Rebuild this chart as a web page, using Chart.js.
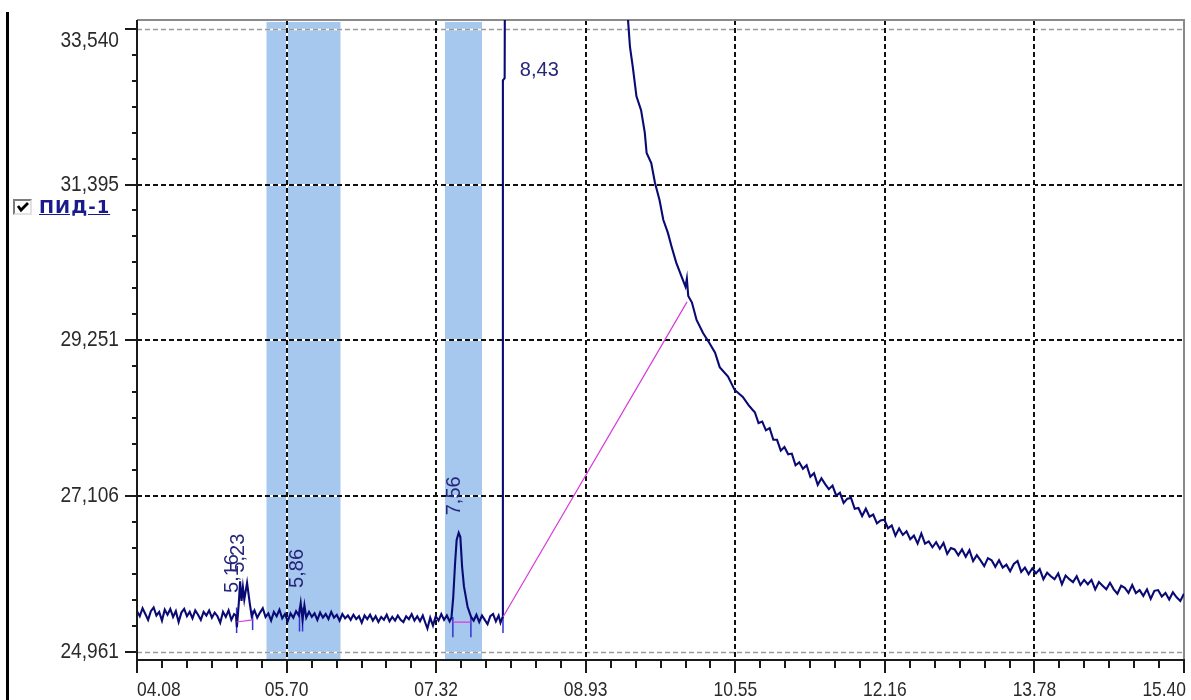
<!DOCTYPE html>
<html>
<head>
<meta charset="utf-8">
<title>ПИД-1</title>
<script src="https://cdn.jsdelivr.net/npm/chart.js@4.4.1/dist/chart.umd.min.js"></script>
<style>
    body { margin: 0; background: #fff; }
    #wrap { position: relative; width: 1191px; height: 700px; overflow: hidden; background: #fff; }
    #chart { position: absolute; left: 0; top: 0; }
    .side-line { position: absolute; left: 6px; top: 12px; width: 3px; height: 688px; background: #000; }
    .check { position: absolute; left: 13px; top: 199px; width: 19px; height: 16px; box-sizing: border-box;
             border: 2px solid; border-color: #7c7c7c #e2e2e2 #e2e2e2 #7c7c7c; background: #fff; }
    .check svg { position: absolute; left: 1px; top: 0px; }
    .legend-name { position: absolute; left: 39px; top: 198px; line-height: 18px; font-family: "DejaVu Sans", Verdana, sans-serif;
                   font-weight: bold; font-size: 18px; letter-spacing: 1px; color: #1a1a8c; text-decoration: underline; }
</style>
</head>
<body>
<div id="wrap">
    <canvas id="chart" width="1191" height="700"></canvas>
    <div class="side-line"></div>
    <div class="check">
        <svg width="14" height="12" viewBox="0 0 14 12"><polyline points="2,5 5,9 12,2" fill="none" stroke="#000" stroke-width="2.8"/></svg>
    </div>
    <div class="legend-name">ПИД-1</div>
</div>
<script>
// axis ticks
let xTicks = [4.08, 5.697, 7.314, 8.931, 10.549, 12.166, 13.783, 15.40];
let xTickLabels = ["04.08", "05.70", "07.32", "08.93", "10.55", "12.16", "13.78", "15.40"];
let yTicks = [24.961, 27.106, 29.251, 31.395, 33.540];
let yTickLabels = ["24,961", "27,106", "29,251", "31,395", "33,540"];

// highlighted time windows (blue bands)
let bandStart = [5.48, 7.41];
let bandEnd = [6.28, 7.81];

// detector trace, time (min) / signal
let signalTime = [
    4.08, 4.11, 4.14, 4.17, 4.20, 4.23, 4.26, 4.29, 4.32, 4.35, 4.38, 4.41, 4.44, 4.47, 4.50, 4.53, 4.56, 4.59, 4.62, 4.65,
    4.68, 4.71, 4.74, 4.77, 4.80, 4.83, 4.86, 4.89, 4.92, 4.95, 4.98, 5.01, 5.04, 5.07, 5.10, 5.13, 5.15, 5.16, 5.18, 5.195,
    5.21, 5.225, 5.24, 5.27, 5.30, 5.32, 5.35, 5.38, 5.41, 5.44, 5.47, 5.50, 5.53, 5.56, 5.59, 5.62, 5.65, 5.68, 5.71, 5.74,
    5.77, 5.80, 5.83, 5.85, 5.87, 5.89, 5.91, 5.94, 5.97, 6.00, 6.03, 6.06, 6.09, 6.12, 6.15, 6.18, 6.21, 6.24, 6.27, 6.30,
    6.33, 6.36, 6.39, 6.42, 6.45, 6.48, 6.51, 6.54, 6.57, 6.60, 6.63, 6.66, 6.69, 6.72, 6.75, 6.78, 6.81, 6.84, 6.87, 6.90,
    6.93, 6.96, 6.99, 7.02, 7.05, 7.08, 7.11, 7.14, 7.17, 7.20, 7.22, 7.25, 7.28, 7.31, 7.34, 7.37, 7.40, 7.43, 7.46, 7.48,
    7.499, 7.519, 7.536, 7.558, 7.576, 7.595, 7.615, 7.654, 7.692, 7.72, 7.75, 7.78, 7.81, 7.84, 7.87, 7.90, 7.93, 7.96, 7.99, 8.01,
    8.033, 8.036, 8.055, 8.07, 8.43, 8.80, 9.10, 9.30,
    9.389, 9.41, 9.44, 9.48, 9.53, 9.57, 9.59, 9.64, 9.68, 9.73, 9.77, 9.82, 9.86, 9.91, 9.97, 10.01, 10.025, 10.04, 10.08, 10.13,
    10.20, 10.27, 10.33, 10.38, 10.47, 10.54, 10.63, 10.69, 10.73,
    10.76, 10.80, 10.84, 10.88, 10.92, 10.96, 11.00, 11.04, 11.08, 11.12, 11.16, 11.20, 11.24, 11.28, 11.32, 11.36, 11.40, 11.44, 11.48, 11.52,
    11.56, 11.60, 11.64, 11.68, 11.72, 11.76, 11.80, 11.84, 11.88, 11.92, 11.96, 12.00, 12.04, 12.08, 12.12, 12.16, 12.20, 12.24, 12.28, 12.32,
    12.36, 12.40, 12.44, 12.48, 12.52, 12.56, 12.60, 12.64, 12.68, 12.72, 12.76, 12.80, 12.84, 12.88, 12.92, 12.96, 13.00, 13.04, 13.08, 13.12,
    13.16, 13.20, 13.24, 13.28, 13.32, 13.36, 13.40, 13.44, 13.48, 13.52, 13.56, 13.60, 13.64, 13.68, 13.72, 13.76, 13.80, 13.84, 13.88, 13.92,
    13.96, 14.00, 14.04, 14.08, 14.12, 14.16, 14.20, 14.24, 14.28, 14.32, 14.36, 14.40, 14.44, 14.48, 14.52, 14.56, 14.60, 14.64, 14.68, 14.72,
    14.76, 14.80, 14.84, 14.88, 14.92, 14.96, 15.00, 15.04, 15.08, 15.12, 15.16, 15.20, 15.24, 15.28, 15.32, 15.36, 15.40
];
let signalValue = [
    25.52, 25.45, 25.56, 25.48, 25.40, 25.52, 25.57, 25.46, 25.51, 25.39, 25.54, 25.47, 25.55, 25.44, 25.52, 25.37, 25.50, 25.55, 25.45, 25.51,
    25.42, 25.53, 25.47, 25.40, 25.51, 25.46, 25.53, 25.43, 25.50, 25.45, 25.36, 25.51, 25.44, 25.53, 25.40, 25.48, 25.46, 25.30, 25.62, 25.93,
    25.66, 25.85, 25.68, 25.91, 25.62, 25.45, 25.53, 25.43, 25.50, 25.56, 25.44, 25.49, 25.39, 25.51, 25.45, 25.54, 25.42, 25.48, 25.38, 25.49,
    25.43, 25.52, 25.46, 25.63, 25.40, 25.60, 25.43, 25.51, 25.44, 25.49, 25.40, 25.50, 25.43, 25.48, 25.41, 25.51, 25.43, 25.47, 25.39, 25.48,
    25.42, 25.46, 25.40, 25.47, 25.41, 25.45, 25.36, 25.46, 25.41, 25.47, 25.39, 25.45, 25.37, 25.44, 25.40, 25.47, 25.38, 25.44, 25.39, 25.46,
    25.40, 25.37, 25.45, 25.41, 25.48, 25.39, 25.45, 25.38, 25.46, 25.35, 25.28, 25.43, 25.32, 25.45, 25.39, 25.48, 25.40, 25.46, 25.38, 25.43,
    25.71, 26.18, 26.50, 26.60, 26.54, 26.13, 25.86, 25.58, 25.44, 25.39, 25.47, 25.37, 25.46, 25.40, 25.34, 25.45, 25.48, 25.38, 25.46, 25.36,
    25.44, 32.83, 32.86, 40.0, 62.0, 48.0, 39.0, 35.2,
    33.66, 33.29, 33.02, 32.61, 32.42, 32.11, 31.83, 31.69, 31.42, 31.18, 30.91, 30.73, 30.54, 30.32, 30.12, 29.99, 30.10, 29.86, 29.77, 29.53,
    29.35, 29.21, 29.08, 28.88, 28.75, 28.57, 28.47, 28.36, 28.30,
    28.26, 28.11, 28.13, 28.01, 28.04, 27.88, 27.88, 27.73, 27.78, 27.68, 27.69, 27.53, 27.57, 27.48, 27.53, 27.37, 27.42, 27.26, 27.35, 27.27,
    27.20, 27.25, 27.11, 27.15, 27.01, 27.07, 27.08, 26.93, 26.94, 26.83, 26.93, 26.82, 26.85, 26.73, 26.77, 26.78, 26.66, 26.70, 26.56, 26.66,
    26.57, 26.62, 26.51, 26.56, 26.45, 26.59, 26.45, 26.48, 26.40, 26.47, 26.38, 26.46, 26.31, 26.39, 26.37, 26.29, 26.37, 26.27, 26.36, 26.21,
    26.29, 26.22, 26.14, 26.25, 26.22, 26.13, 26.22, 26.12, 26.16, 26.07, 26.17, 26.21, 26.06, 26.12, 26.03, 26.11, 26.04, 26.10, 25.96, 26.05,
    26.00, 25.96, 26.04, 25.89, 26.01, 25.96, 25.92, 26.00, 25.88, 25.95, 25.89, 25.95, 25.82, 25.92, 25.87, 25.82, 25.91, 25.82, 25.76, 25.87,
    25.84, 25.77, 25.88, 25.77, 25.81, 25.73, 25.82, 25.69, 25.80, 25.81, 25.72, 25.77, 25.68, 25.78, 25.71, 25.66, 25.76
];

// peak baselines (magenta)
let baseStartTime = [5.157, 7.495, 8.037];
let baseStartValue = [25.37, 25.37, 25.44];
let baseEndTime = [5.33, 7.69, 10.027];
let baseEndValue = [25.40, 25.37, 29.78];

// peak start / end markers
let markerTime = [5.157, 5.33, 5.837, 5.87, 7.495, 7.69, 8.037];
let markerTop = [25.57, 25.53, 25.57, 25.57, 25.44, 25.44, 25.44];
let markerBottom = [25.22, 25.26, 25.24, 25.24, 25.16, 25.16, 25.22];

// retention time labels, null level = peak off scale
let peakTime = [5.16, 5.23, 5.86, 7.56, 8.43];
let peakLabel = ["5,16", "5,23", "5,86", "7,56", "8,43"];
let peakLabelLevel = [25.77, 26.05, 25.84, 26.84, null];

let axisFont = '22px "Liberation Sans", Arial, sans-serif';
let xAxisFont = '21px "Liberation Sans", Arial, sans-serif';
let peakFont = '20px "Liberation Sans", Arial, sans-serif';

function makeSignal() {
    let pts = [];
    for (let i = 0; i < signalTime.length; i++) {
        pts.push({ x: signalTime[i], y: signalValue[i] });
    }
    return pts;
}

function makeBaselines() {
    let pts = [];
    for (let i = 0; i < baseStartTime.length; i++) {
        pts.push({ x: baseStartTime[i], y: baseStartValue[i] });
        pts.push({ x: baseEndTime[i], y: baseEndValue[i] });
        pts.push({ x: baseEndTime[i], y: null });
    }
    return pts;
}

function makeMarkers() {
    let pts = [];
    for (let i = 0; i < markerTime.length; i++) {
        pts.push({ x: markerTime[i], y: markerTop[i] });
        pts.push({ x: markerTime[i], y: markerBottom[i] });
        pts.push({ x: markerTime[i], y: null });
    }
    return pts;
}

function dashedLine(ctx, x1, y1, x2, y2, color, width) {
    // windows style dotted pen: white gaps, so it shows over the bands
    ctx.setLineDash([]);
    ctx.strokeStyle = "#fff";
    ctx.lineWidth = width;
    ctx.beginPath(); ctx.moveTo(x1, y1); ctx.lineTo(x2, y2); ctx.stroke();
    ctx.setLineDash([5, 3]);
    ctx.strokeStyle = color;
    ctx.beginPath(); ctx.moveTo(x1, y1); ctx.lineTo(x2, y2); ctx.stroke();
    ctx.setLineDash([]);
}

// the original font is a narrow one, squeeze it a bit
function narrowText(ctx, text, x, y, sx) {
    ctx.save();
    ctx.translate(x, y);
    ctx.scale(sx, 1);
    ctx.fillText(text, 0, 0);
    ctx.restore();
}

const chromPlugin = {
    id: "chrom",
    beforeDatasetsDraw(chart) {
        let ctx = chart.ctx;
        let area = chart.chartArea;
        let xs = chart.scales.x;
        let ys = chart.scales.y;
        ctx.save();

        ctx.fillStyle = "#a6c8ee";
        for (let i = 0; i < bandStart.length; i++) {
            let x1 = xs.getPixelForValue(bandStart[i]);
            let x2 = xs.getPixelForValue(bandEnd[i]);
            ctx.fillRect(x1, area.top + 2, x2 - x1, area.bottom - area.top - 2);
        }

        for (let i = 0; i < yTicks.length; i++) {
            let py = Math.round(ys.getPixelForValue(yTicks[i]));
            if (i == 0 || i == yTicks.length - 1) {
                dashedLine(ctx, area.left, py + 0.5, area.right, py + 0.5, "#9a9a9a", 1.5);
            } else {
                dashedLine(ctx, area.left, py, area.right, py, "#111", 2);
            }
        }
        for (let i = 1; i < xTicks.length - 1; i++) {
            let px = Math.round(xs.getPixelForValue(xTicks[i]));
            dashedLine(ctx, px, area.top, px, area.bottom, "#111", 2);
        }

        // frame top / right
        ctx.strokeStyle = "#8a8a8a";
        ctx.lineWidth = 2;
        ctx.beginPath();
        ctx.moveTo(area.left, area.top);
        ctx.lineTo(area.right, area.top);
        ctx.lineTo(area.right, area.bottom);
        ctx.stroke();
        ctx.restore();
    },
    afterDatasetsDraw(chart) {
        let ctx = chart.ctx;
        let area = chart.chartArea;
        let xs = chart.scales.x;
        let ys = chart.scales.y;
        ctx.save();

        // axes
        ctx.strokeStyle = "#1a1a1a";
        ctx.lineWidth = 2;
        ctx.beginPath();
        ctx.moveTo(area.left, area.top);
        ctx.lineTo(area.left, area.bottom);
        ctx.lineTo(area.right + 1, area.bottom);
        ctx.stroke();

        // y ticks, 6 steps between labels
        ctx.beginPath();
        for (let i = 0; i < yTicks.length; i++) {
            let py = Math.round(ys.getPixelForValue(yTicks[i]));
            ctx.moveTo(area.left - 12, py); ctx.lineTo(area.left, py);
            if (i < yTicks.length - 1) {
                let py2 = ys.getPixelForValue(yTicks[i + 1]);
                for (let j = 1; j < 6; j++) {
                    let m = Math.round(py + (py2 - py) * j / 6);
                    ctx.moveTo(area.left - 5, m); ctx.lineTo(area.left, m);
                }
            }
        }
        // x ticks
        for (let i = 0; i < xTicks.length; i++) {
            let px = Math.round(xs.getPixelForValue(xTicks[i]));
            ctx.moveTo(px, area.bottom); ctx.lineTo(px, area.bottom + 13);
            if (i < xTicks.length - 1) {
                let px2 = xs.getPixelForValue(xTicks[i + 1]);
                for (let j = 1; j < 6; j++) {
                    let m = Math.round(px + (px2 - px) * j / 6);
                    ctx.moveTo(m, area.bottom); ctx.lineTo(m, area.bottom + 8);
                }
            }
        }
        ctx.stroke();

        // tick labels
        ctx.fillStyle = "#2a2a2a";
        ctx.font = axisFont;
        ctx.textAlign = "right";
        ctx.textBaseline = "middle";
        for (let i = 0; i < yTicks.length; i++) {
            let py = Math.max(ys.getPixelForValue(yTicks[i]), area.top + 21);
            narrowText(ctx, yTickLabels[i], area.left - 18, py, 0.87);
        }
        ctx.font = xAxisFont;
        for (let i = 0; i < xTicks.length; i++) {
            let px = xs.getPixelForValue(xTicks[i]);
            ctx.textAlign = i == 0 ? "left" : (i == xTicks.length - 1 ? "right" : "center");
            narrowText(ctx, xTickLabels[i], px + (i == xTicks.length - 1 ? 2 : 0), area.bottom + 30, 0.83);
        }

        // retention times
        ctx.fillStyle = "#26267c";
        ctx.font = peakFont;
        for (let i = 0; i < peakTime.length; i++) {
            let px = xs.getPixelForValue(peakTime[i]);
            if (peakLabelLevel[i] === null) {
                ctx.textAlign = "center";
                ctx.textBaseline = "middle";
                ctx.fillText(peakLabel[i], px, area.top + 50);
            } else {
                let py = ys.getPixelForValue(peakLabelLevel[i]);
                ctx.save();
                ctx.translate(px + 1, py);
                ctx.rotate(-Math.PI / 2);
                ctx.textAlign = "left";
                ctx.textBaseline = "alphabetic";
                ctx.fillText(peakLabel[i], 0, 0);
                ctx.restore();
            }
        }
        ctx.restore();
    }
};

new Chart("chart", {
    type: "line",
    data: {
        datasets: [{
            label: "baseline",
            data: makeBaselines(),
            borderColor: "#d93ad9",
            borderWidth: 1.2,
            pointRadius: 0,
            tension: 0,
            spanGaps: false,
            order: 0
        }, {
            label: "ПИД-1",
            data: makeSignal(),
            borderColor: "#0a0a74",
            borderWidth: 2.1,
            pointRadius: 0,
            tension: 0,
            order: 1
        }, {
            label: "markers",
            data: makeMarkers(),
            borderColor: "#3434d2",
            borderWidth: 1.5,
            pointRadius: 0,
            tension: 0,
            spanGaps: false,
            order: 2
        }]
    },
    options: {
        responsive: false,
        animation: false,
        layout: { padding: { left: 137, top: 20, right: 7, bottom: 40 } },
        plugins: {
            legend: { display: false },
            tooltip: { enabled: false }
        },
        scales: {
            x: { type: "linear", min: 4.08, max: 15.40, display: false },
            y: { type: "linear", min: 24.847, max: 33.662, display: false }
        }
    },
    plugins: [chromPlugin]
});
</script>
</body>
</html>
